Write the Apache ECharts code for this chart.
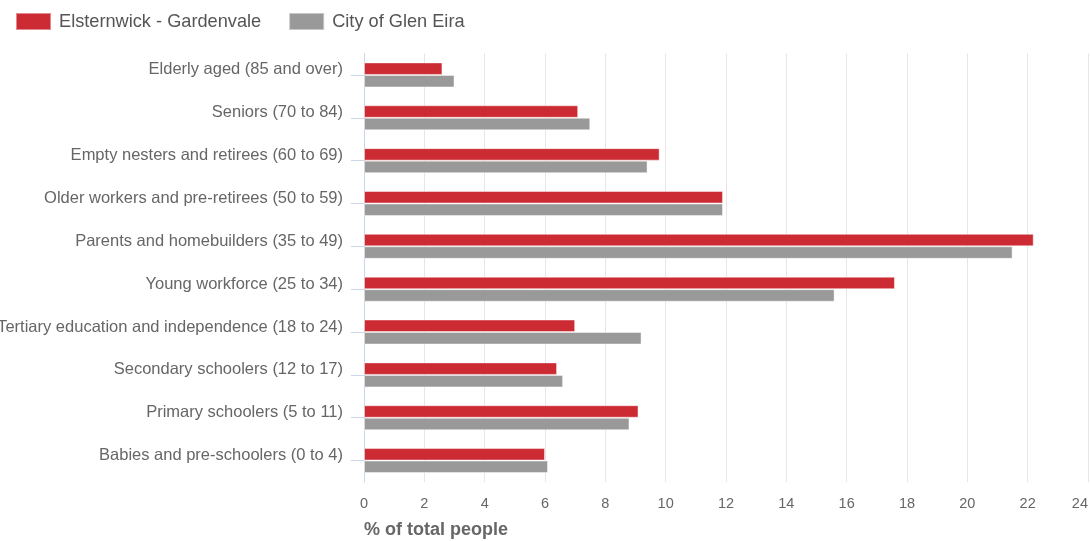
<!DOCTYPE html>
<html>
<head>
<meta charset="utf-8">
<title>Service age groups</title>
<script src="https://cdn.jsdelivr.net/npm/echarts@6/dist/echarts.min.js"></script>
<style>
  html, body { margin: 0; padding: 0; background: #fff; }
  #chart { width: 1090px; height: 541px; }
</style>
</head>
<body>
<div id="chart"></div>
<script>
// Service age groups, top to bottom
const categories = [
  'Elderly aged (85 and over)',
  'Seniors (70 to 84)',
  'Empty nesters and retirees (60 to 69)',
  'Older workers and pre-retirees (50 to 59)',
  'Parents and homebuilders (35 to 49)',
  'Young workforce (25 to 34)',
  'Tertiary education and independence (18 to 24)',
  'Secondary schoolers (12 to 17)',
  'Primary schoolers (5 to 11)',
  'Babies and pre-schoolers (0 to 4)'
];

const seriesNames = ['Elsternwick - Gardenvale', 'City of Glen Eira'];

// % of total people
const elsternwickValues = [2.6, 7.1, 9.8, 11.9, 22.2, 17.6, 7.0, 6.4, 9.1, 6.0];
const glenEiraValues    = [3.0, 7.5, 9.4, 11.9, 21.5, 15.6, 9.2, 6.6, 8.8, 6.1];

const xTicks = { min: 0, max: 24, interval: 2 };
const axisTitle = '% of total people';

const FONT = 'Liberation Sans, Arial, Helvetica, sans-serif';
const chart = echarts.init(document.getElementById('chart'), null, { renderer: 'canvas' });

chart.setOption({
  animation: false,
  color: ['#cc2b33', '#999999'],
  textStyle: { fontFamily: FONT },
  title: {
    text: axisTitle,
    left: 364,
    top: 521,
    padding: 0,
    textStyle: { fontFamily: FONT, fontSize: 18, fontWeight: 'bold', color: '#666666' }
  },
  legend: {
    left: 15,
    top: 12,
    padding: 0,
    itemWidth: 35,
    itemHeight: 17,
    itemGap: 27,
    icon: 'rect',
    data: seriesNames,
    textStyle: { fontFamily: FONT, fontSize: 18.2, color: '#555555', padding: [0, 0, 0, 3] }
  },
  grid: { left: 364, right: 2, top: 53.5, bottom: 59, outerBoundsMode: 'none', containLabel: false },
  xAxis: {
    type: 'value',
    min: xTicks.min,
    max: xTicks.max,
    interval: xTicks.interval,
    axisLine: { show: false },
    axisTick: { show: false },
    axisLabel: {
      fontFamily: FONT,
      fontSize: 14.5,
      color: '#666666',
      margin: 14,
      alignMaxLabel: 'right'
    },
    splitLine: { show: true, showMinLine: false, lineStyle: { color: '#e6e6e6', width: 1 } }
  },
  yAxis: {
    type: 'category',
    inverse: true,
    data: categories,
    axisLine: { show: true, lineStyle: { color: '#ccd6eb', width: 1 } },
    axisTick: { show: true, alignWithLabel: true, length: 13, lineStyle: { color: '#ccd6eb' } },
    axisLabel: {
      fontFamily: FONT,
      fontSize: 16.5,
      color: '#666666',
      margin: 21,
      verticalAlign: 'bottom',
      lineHeight: 10
    },
    splitLine: { show: false }
  },
  series: [
    {
      name: seriesNames[0],
      type: 'bar',
      data: elsternwickValues,
      barWidth: 12.5,
      barGap: '0%',
      itemStyle: { borderColor: 'rgba(255,255,255,0.45)', borderWidth: 1 }
    },
    {
      name: seriesNames[1],
      type: 'bar',
      data: glenEiraValues,
      barWidth: 12.5,
      barGap: '0%',
      itemStyle: { borderColor: 'rgba(255,255,255,0.45)', borderWidth: 1 }
    }
  ]
});
</script>
</body>
</html>
